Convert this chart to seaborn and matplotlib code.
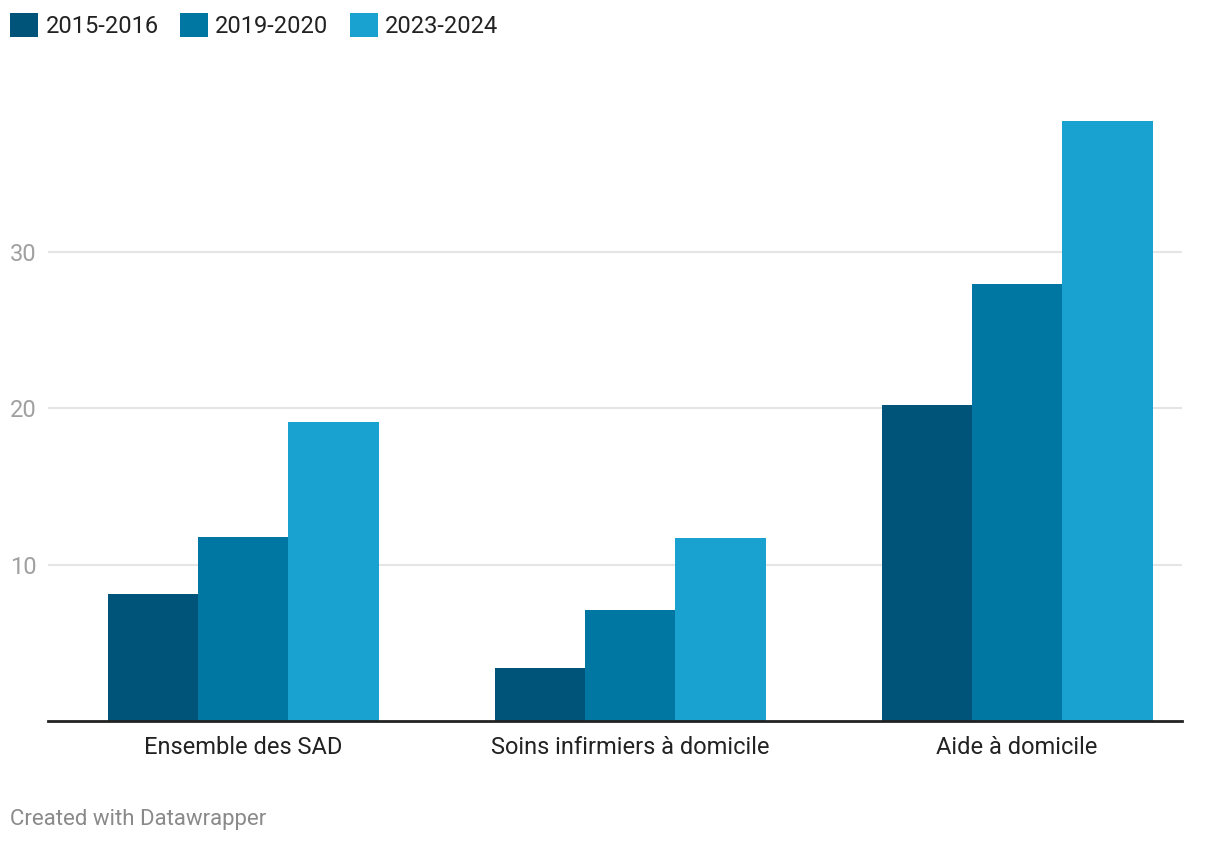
import pandas as pd
import matplotlib.pyplot as plt
import seaborn as sns

# ---------------------------
# DATA
# ---------------------------
categories = ["Ensemble des SAD", "Soins infirmiers à domicile", "Aide à domicile"]
periods = ["2015-2016", "2019-2020", "2023-2024"]
v_2015 = [8.1, 3.4, 20.2]
v_2019 = [11.8, 7.1, 27.95]
v_2023 = [19.1, 11.7, 38.35]

colors = ["#005479", "#0077a2", "#19a2cf"]

rows = []
for p, vals in zip(periods, [v_2015, v_2019, v_2023]):
    for c, v in zip(categories, vals):
        rows.append({"cat": c, "period": p, "val": v})
data = pd.DataFrame(rows)

# ---------------------------
# PLOT
# ---------------------------
sns.set_style("white")
plt.rcParams["font.family"] = ["Roboto", "DejaVu Sans"]

fig = plt.figure(figsize=(12.2, 8.44), dpi=100)
ax = fig.add_axes([48 / 1220, 1 - 721 / 844, (1182 - 48) / 1220, (721 - 95.7) / 844])

sns.barplot(data=data, x="cat", y="val", hue="period", palette=colors,
            width=0.7, saturation=1, linewidth=0, ax=ax, legend=True)

ax.set_xlim(-0.504, 2.426)
ax.set_ylim(0, 40)
ax.set_yticks([10, 20, 30])
ax.yaxis.grid(True, color="#e5e5e5", linewidth=1.5)
ax.set_axisbelow(True)
for s in ["top", "right", "left"]:
    ax.spines[s].set_visible(False)
ax.spines["bottom"].set_color("#222222")
ax.spines["bottom"].set_linewidth(2)
ax.set_xlabel("")
ax.set_ylabel("")
ax.tick_params(axis="y", length=0, pad=8, labelsize=17, labelcolor="#a0a0a0")
ax.tick_params(axis="x", length=0, pad=11, labelsize=17, labelcolor="#222222")

handles, labels = ax.get_legend_handles_labels()
ax.get_legend().remove()
fig.legend(handles, labels, loc="upper left", bbox_to_anchor=(10 / 1220, 1 - 13 / 844),
           ncol=3, frameon=False, fontsize=17, borderpad=0, borderaxespad=0,
           handlelength=1.2, handleheight=1.2, handletextpad=0.3,
           columnspacing=0.9, labelcolor="#222222")

fig.text(10 / 1220, 1 - 820 / 844, "Created with Datawrapper", fontsize=16,
         color="#8a8a8a", va="center", ha="left")

fig.savefig("out.png", dpi=100)
